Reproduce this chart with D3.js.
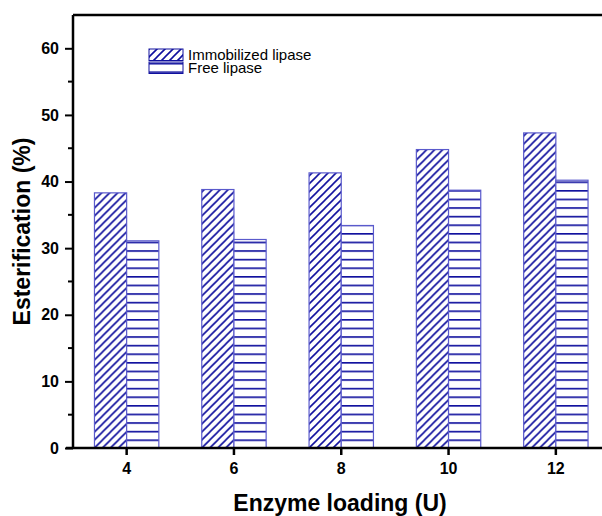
<!DOCTYPE html>
<html>
<head>
<meta charset="utf-8">
<script src="https://cdn.jsdelivr.net/npm/d3@7"></script>
<style>
  body { margin: 0; background: #fff; }
  svg { display: block; }
</style>
</head>
<body>
<div id="chartContainer"></div>
<script>
// data
var loadings = ["4", "6", "8", "10", "12"];
var seriesNames = ["Immobilized lipase", "Free lipase"];
var immobilized = [38.3, 38.8, 41.3, 44.8, 47.3];
var free = [31.1, 31.3, 33.4, 38.7, 40.2];
var yTicks = [0, 10, 20, 30, 40, 50, 60];

var W = 602, H = 516;
var plotLeft = 73, plotTop = 15, plotBottom = 448;
var step = 107.3;
var font = "Liberation Sans, Arial, sans-serif";
var hatch = "#10109e";

var svg = d3.select("#chartContainer").append("svg")
  .attr("width", W).attr("height", H);

// hatch fills
var defs = svg.append("defs");
var diag = defs.append("pattern")
  .attr("id", "diag")
  .attr("patternUnits", "userSpaceOnUse")
  .attr("width", 8).attr("height", 8);
diag.append("rect").attr("width", 8).attr("height", 8).attr("fill", "#fff");
diag.append("path")
  .attr("d", "M-2,2 L2,-2 M0,8 L8,0 M6,10 L10,6")
  .attr("stroke", hatch).attr("stroke-width", 1.6);

var horiz = defs.append("pattern")
  .attr("id", "horiz")
  .attr("patternUnits", "userSpaceOnUse")
  .attr("width", 8).attr("height", 8.6)
  .attr("y", plotBottom);
horiz.append("rect").attr("width", 8).attr("height", 8.6).attr("fill", "#fff");
horiz.append("line")
  .attr("x1", 0).attr("x2", 8).attr("y1", 0.8).attr("y2", 0.8)
  .attr("stroke", hatch).attr("stroke-width", 1.7);

var fills = ["url(#diag)", "url(#horiz)"];

var x = d3.scaleBand()
  .domain(loadings)
  .range([plotLeft, plotLeft + step * loadings.length])
  .paddingInner(0.4)
  .paddingOuter(0.2);

var xs = d3.scaleBand()
  .domain(seriesNames)
  .range([0, x.bandwidth()]);

var y = d3.scaleLinear()
  .domain([0, 65])
  .range([plotBottom, plotTop]);

var rows = loadings.map(function (d, i) {
  return { cat: d, vals: [immobilized[i], free[i]] };
});

// bars
var groups = svg.selectAll("g.grp")
  .data(rows)
  .enter().append("g")
  .attr("class", "grp")
  .attr("transform", function (d) { return "translate(" + x(d.cat) + ",0)"; });

groups.selectAll("rect")
  .data(function (d) { return d.vals.map(function (v, j) { return { s: seriesNames[j], v: v, j: j }; }); })
  .enter().append("rect")
  .attr("x", function (d) { return xs(d.s); })
  .attr("y", function (d) { return y(d.v); })
  .attr("width", xs.bandwidth())
  .attr("height", function (d) { return plotBottom - y(d.v); })
  .attr("fill", function (d) { return fills[d.j]; })
  .attr("stroke", "#5a5acc")
  .attr("stroke-width", 1.2);

// y axis
var yAxis = d3.axisLeft(y)
  .tickValues(yTicks)
  .tickSize(8)
  .tickPadding(6)
  .tickFormat(d3.format("d"));
var gy = svg.append("g")
  .attr("transform", "translate(" + plotLeft + ",0)")
  .call(yAxis);
gy.select(".domain").remove();
gy.selectAll(".tick line").attr("stroke", "#000").attr("stroke-width", 2);
gy.selectAll(".tick text")
  .attr("font-family", font)
  .attr("font-weight", "bold")
  .attr("font-size", 16)
  .attr("fill", "#000");

// minor y ticks
svg.selectAll("line.minor")
  .data(d3.range(5, 65, 10))
  .enter().append("line")
  .attr("class", "minor")
  .attr("x1", plotLeft - 5).attr("x2", plotLeft)
  .attr("y1", function (d) { return y(d); })
  .attr("y2", function (d) { return y(d); })
  .attr("stroke", "#000").attr("stroke-width", 2);

// x axis
var xAxis = d3.axisBottom(x).tickSize(7).tickPadding(8);
var gx = svg.append("g")
  .attr("transform", "translate(0," + plotBottom + ")")
  .call(xAxis);
gx.select(".domain").remove();
gx.selectAll(".tick line").attr("stroke", "#000").attr("stroke-width", 2.5);
gx.selectAll(".tick text")
  .attr("font-family", font)
  .attr("font-weight", "bold")
  .attr("font-size", 16)
  .attr("fill", "#000");

// frame lines
svg.append("line")
  .attr("x1", plotLeft - 7).attr("x2", W)
  .attr("y1", plotBottom).attr("y2", plotBottom)
  .attr("stroke", "#000").attr("stroke-width", 2.5);
svg.append("line")
  .attr("x1", plotLeft).attr("x2", plotLeft)
  .attr("y1", plotTop).attr("y2", plotBottom)
  .attr("stroke", "#000").attr("stroke-width", 2.5);
svg.append("line")
  .attr("x1", plotLeft).attr("x2", W)
  .attr("y1", plotTop).attr("y2", plotTop)
  .attr("stroke", "#000").attr("stroke-width", 2.5);

// axis titles
svg.append("text")
  .attr("x", 340).attr("y", 511)
  .attr("text-anchor", "middle")
  .attr("font-family", font)
  .attr("font-weight", "bold")
  .attr("font-size", 23)
  .text("Enzyme loading (U)");

svg.append("text")
  .attr("transform", "translate(30," + ((plotTop + plotBottom) / 2) + ") rotate(-90)")
  .attr("text-anchor", "middle")
  .attr("font-family", font)
  .attr("font-weight", "bold")
  .attr("font-size", 23)
  .text("Esterification (%)");

// legend
var legend = svg.selectAll("g.leg")
  .data(seriesNames)
  .enter().append("g")
  .attr("class", "leg")
  .attr("transform", function (d, i) { return "translate(149," + (49 + i * 13) + ")"; });
legend.append("rect")
  .attr("width", 34).attr("height", 11.5)
  .attr("fill", function (d, i) { return fills[i]; })
  .attr("stroke", hatch).attr("stroke-width", 1);
legend.append("text")
  .attr("x", 39).attr("y", 11)
  .attr("font-family", font)
  .attr("font-size", 15)
  .text(function (d) { return d; });
</script>
</body>
</html>
